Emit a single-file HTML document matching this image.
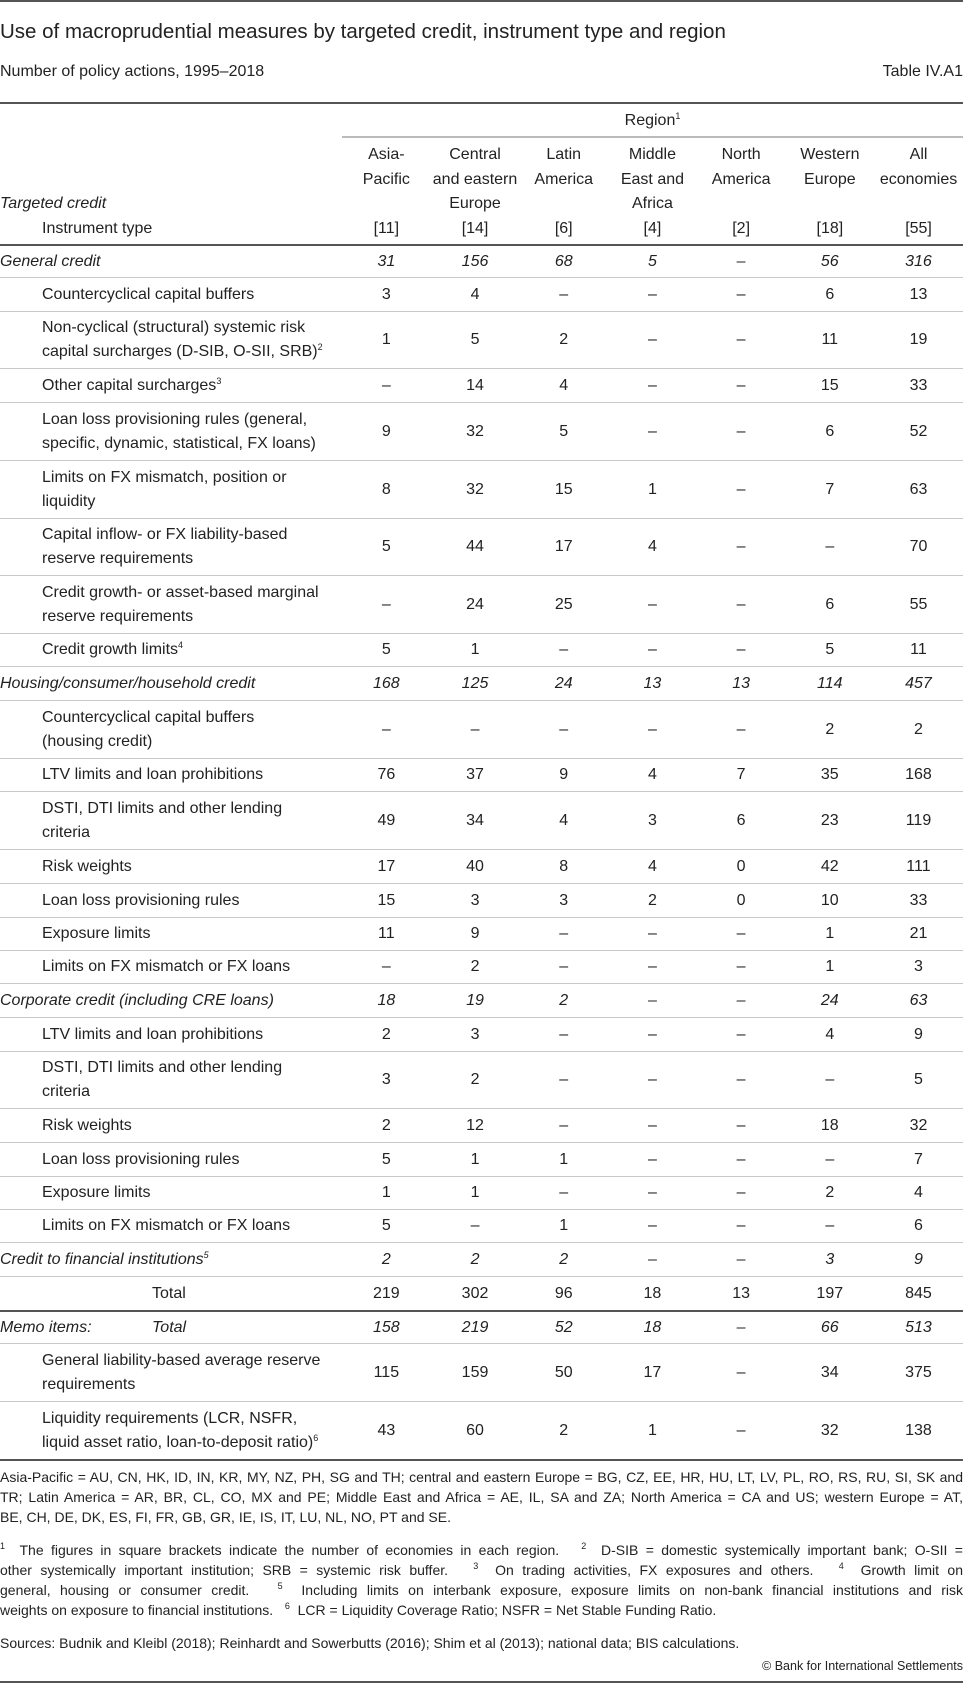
<!DOCTYPE html>
<html><head><meta charset="utf-8"><style>
*{margin:0;padding:0;box-sizing:border-box}
body{width:963px;height:1683px;position:relative;background:#fff;font-family:"Liberation Sans",sans-serif;color:#222;overflow:hidden}
.a{position:absolute}
.hl{position:absolute;left:0;width:963px;height:2px;background:#555}
.r{position:absolute;left:0;width:963px;display:flex;align-items:center;border-bottom:1.5px solid #c8c8c8;font-size:16px;line-height:24px}
.l{width:342px;padding-left:42px;flex:none;white-space:nowrap}
.r.i .l{padding-left:0;font-style:italic}
.r.i .c{font-style:italic}
.c{width:88.7px;text-align:center;flex:none}
sup{font-size:9px;vertical-align:6px;line-height:0}
.h{position:absolute;text-align:center;width:88.7px;font-size:16px;line-height:24.5px}
.fl{position:absolute;left:0;width:963px;font-size:14px;line-height:20px;text-align:justify;text-align-last:justify;white-space:nowrap}
.fl.e{text-align-last:left}
</style></head><body>
<div class="hl" style="top:0"></div>
<div class="a" style="left:0;top:19px;font-size:20.5px;line-height:26px">Use of macroprudential measures by targeted credit, instrument type and region</div>
<div class="a" style="left:0;top:61px;font-size:16px;line-height:22px">Number of policy actions, 1995–2018</div>
<div class="a" style="right:0;top:61px;font-size:16px;line-height:22px">Table IV.A1</div>
<div class="hl" style="top:102px"></div>
<div class="a" style="left:342px;width:621px;top:110px;text-align:center;font-size:16px;line-height:22px">Region<sup>1</sup></div>
<div class="a" style="left:342px;width:621px;top:136px;height:1.5px;background:#bbb"></div>
<div class="a" style="left:0;top:192px;font-size:16px;line-height:24.5px;font-style:italic">Targeted credit</div>
<div class="a" style="left:42px;top:216.5px;font-size:16px;line-height:24.5px">Instrument type</div>
<div class="h" style="left:342px;top:143px">Asia-<br>Pacific<br>&nbsp;<br>[11]</div>
<div class="h" style="left:430.7px;top:143px">Central<br>and eastern<br>Europe<br>[14]</div>
<div class="h" style="left:519.4px;top:143px">Latin<br>America<br>&nbsp;<br>[6]</div>
<div class="h" style="left:608.1px;top:143px">Middle<br>East and<br>Africa<br>[4]</div>
<div class="h" style="left:696.8px;top:143px">North<br>America<br>&nbsp;<br>[2]</div>
<div class="h" style="left:785.5px;top:143px">Western<br>Europe<br>&nbsp;<br>[18]</div>
<div class="h" style="left:874.2px;top:143px">All<br>economies<br>&nbsp;<br>[55]</div>
<div class="hl" style="top:244px"></div>

<div class="r i" style="top:246px;height:32px"><div class="l">General credit</div><div class="c">31</div><div class="c">156</div><div class="c">68</div><div class="c">5</div><div class="c">–</div><div class="c">56</div><div class="c">316</div></div>
<div class="r" style="top:278px;height:34px"><div class="l">Countercyclical capital buffers</div><div class="c">3</div><div class="c">4</div><div class="c">–</div><div class="c">–</div><div class="c">–</div><div class="c">6</div><div class="c">13</div></div>
<div class="r" style="top:312px;height:57px"><div class="l">Non-cyclical (structural) systemic risk<br>capital surcharges (D-SIB, O-SII, SRB)<sup>2</sup></div><div class="c">1</div><div class="c">5</div><div class="c">2</div><div class="c">–</div><div class="c">–</div><div class="c">11</div><div class="c">19</div></div>
<div class="r" style="top:369px;height:34px"><div class="l">Other capital surcharges<sup>3</sup></div><div class="c">–</div><div class="c">14</div><div class="c">4</div><div class="c">–</div><div class="c">–</div><div class="c">15</div><div class="c">33</div></div>
<div class="r" style="top:403px;height:58px"><div class="l">Loan loss provisioning rules (general,<br>specific, dynamic, statistical, FX loans)</div><div class="c">9</div><div class="c">32</div><div class="c">5</div><div class="c">–</div><div class="c">–</div><div class="c">6</div><div class="c">52</div></div>
<div class="r" style="top:461px;height:58px"><div class="l">Limits on FX mismatch, position or<br>liquidity</div><div class="c">8</div><div class="c">32</div><div class="c">15</div><div class="c">1</div><div class="c">–</div><div class="c">7</div><div class="c">63</div></div>
<div class="r" style="top:519px;height:57px"><div class="l">Capital inflow- or FX liability-based<br>reserve requirements</div><div class="c">5</div><div class="c">44</div><div class="c">17</div><div class="c">4</div><div class="c">–</div><div class="c">–</div><div class="c">70</div></div>
<div class="r" style="top:576px;height:58px"><div class="l">Credit growth- or asset-based marginal<br>reserve requirements</div><div class="c">–</div><div class="c">24</div><div class="c">25</div><div class="c">–</div><div class="c">–</div><div class="c">6</div><div class="c">55</div></div>
<div class="r" style="top:634px;height:33px"><div class="l">Credit growth limits<sup>4</sup></div><div class="c">5</div><div class="c">1</div><div class="c">–</div><div class="c">–</div><div class="c">–</div><div class="c">5</div><div class="c">11</div></div>
<div class="r i" style="top:667px;height:34px"><div class="l">Housing/consumer/household credit</div><div class="c">168</div><div class="c">125</div><div class="c">24</div><div class="c">13</div><div class="c">13</div><div class="c">114</div><div class="c">457</div></div>
<div class="r" style="top:701px;height:58px"><div class="l">Countercyclical capital buffers<br>(housing credit)</div><div class="c">–</div><div class="c">–</div><div class="c">–</div><div class="c">–</div><div class="c">–</div><div class="c">2</div><div class="c">2</div></div>
<div class="r" style="top:759px;height:33px"><div class="l">LTV limits and loan prohibitions</div><div class="c">76</div><div class="c">37</div><div class="c">9</div><div class="c">4</div><div class="c">7</div><div class="c">35</div><div class="c">168</div></div>
<div class="r" style="top:792px;height:58px"><div class="l">DSTI, DTI limits and other lending<br>criteria</div><div class="c">49</div><div class="c">34</div><div class="c">4</div><div class="c">3</div><div class="c">6</div><div class="c">23</div><div class="c">119</div></div>
<div class="r" style="top:850px;height:34px"><div class="l">Risk weights</div><div class="c">17</div><div class="c">40</div><div class="c">8</div><div class="c">4</div><div class="c">0</div><div class="c">42</div><div class="c">111</div></div>
<div class="r" style="top:884px;height:34px"><div class="l">Loan loss provisioning rules</div><div class="c">15</div><div class="c">3</div><div class="c">3</div><div class="c">2</div><div class="c">0</div><div class="c">10</div><div class="c">33</div></div>
<div class="r" style="top:918px;height:33px"><div class="l">Exposure limits</div><div class="c">11</div><div class="c">9</div><div class="c">–</div><div class="c">–</div><div class="c">–</div><div class="c">1</div><div class="c">21</div></div>
<div class="r" style="top:951px;height:33px"><div class="l">Limits on FX mismatch or FX loans</div><div class="c">–</div><div class="c">2</div><div class="c">–</div><div class="c">–</div><div class="c">–</div><div class="c">1</div><div class="c">3</div></div>
<div class="r i" style="top:984px;height:34px"><div class="l">Corporate credit (including CRE loans)</div><div class="c">18</div><div class="c">19</div><div class="c">2</div><div class="c">–</div><div class="c">–</div><div class="c">24</div><div class="c">63</div></div>
<div class="r" style="top:1018px;height:34px"><div class="l">LTV limits and loan prohibitions</div><div class="c">2</div><div class="c">3</div><div class="c">–</div><div class="c">–</div><div class="c">–</div><div class="c">4</div><div class="c">9</div></div>
<div class="r" style="top:1052px;height:57px"><div class="l">DSTI, DTI limits and other lending<br>criteria</div><div class="c">3</div><div class="c">2</div><div class="c">–</div><div class="c">–</div><div class="c">–</div><div class="c">–</div><div class="c">5</div></div>
<div class="r" style="top:1109px;height:34px"><div class="l">Risk weights</div><div class="c">2</div><div class="c">12</div><div class="c">–</div><div class="c">–</div><div class="c">–</div><div class="c">18</div><div class="c">32</div></div>
<div class="r" style="top:1143px;height:34px"><div class="l">Loan loss provisioning rules</div><div class="c">5</div><div class="c">1</div><div class="c">1</div><div class="c">–</div><div class="c">–</div><div class="c">–</div><div class="c">7</div></div>
<div class="r" style="top:1177px;height:33px"><div class="l">Exposure limits</div><div class="c">1</div><div class="c">1</div><div class="c">–</div><div class="c">–</div><div class="c">–</div><div class="c">2</div><div class="c">4</div></div>
<div class="r" style="top:1210px;height:33px"><div class="l">Limits on FX mismatch or FX loans</div><div class="c">5</div><div class="c">–</div><div class="c">1</div><div class="c">–</div><div class="c">–</div><div class="c">–</div><div class="c">6</div></div>
<div class="r i" style="top:1243px;height:34px"><div class="l">Credit to financial institutions<sup>5</sup></div><div class="c">2</div><div class="c">2</div><div class="c">2</div><div class="c">–</div><div class="c">–</div><div class="c">3</div><div class="c">9</div></div>
<div class="r" style="top:1277px;height:33px;border-bottom:none"><div class="l" style="padding-left:152px">Total</div><div class="c">219</div><div class="c">302</div><div class="c">96</div><div class="c">18</div><div class="c">13</div><div class="c">197</div><div class="c">845</div></div>
<div class="hl" style="top:1310px"></div>
<div class="r i" style="top:1312px;height:32px"><div class="l" style="position:relative">Memo items:<span style="position:absolute;left:152px">Total</span></div><div class="c">158</div><div class="c">219</div><div class="c">52</div><div class="c">18</div><div class="c">–</div><div class="c">66</div><div class="c">513</div></div>
<div class="r" style="top:1344px;height:58px"><div class="l">General liability-based average reserve<br>requirements</div><div class="c">115</div><div class="c">159</div><div class="c">50</div><div class="c">17</div><div class="c">–</div><div class="c">34</div><div class="c">375</div></div>
<div class="r" style="top:1402px;height:57px;border-bottom:none"><div class="l">Liquidity requirements (LCR, NSFR,<br>liquid asset ratio, loan-to-deposit ratio)<sup>6</sup></div><div class="c">43</div><div class="c">60</div><div class="c">2</div><div class="c">1</div><div class="c">–</div><div class="c">32</div><div class="c">138</div></div>
<div class="hl" style="top:1459px"></div>

<div class="fl" style="top:1467px">Asia-Pacific = AU, CN, HK, ID, IN, KR, MY, NZ, PH, SG and TH; central and eastern Europe = BG, CZ, EE, HR, HU, LT, LV, PL, RO, RS, RU, SI, SK and</div>
<div class="fl" style="top:1487px">TR; Latin America = AR, BR, CL, CO, MX and PE; Middle East and Africa = AE, IL, SA and ZA; North America = CA and US; western Europe = AT,</div>
<div class="fl e" style="top:1507px">BE, CH, DE, DK, ES, FI, FR, GB, GR, IE, IS, IT, LU, NL, NO, PT and SE.</div>
<div class="fl" style="top:1540px"><sup>1</sup>&nbsp; The figures in square brackets indicate the number of economies in each region. &nbsp; <sup>2</sup>&nbsp; D-SIB = domestic systemically important bank; O-SII =</div>
<div class="fl" style="top:1560px">other systemically important institution; SRB = systemic risk buffer. &nbsp; <sup>3</sup>&nbsp; On trading activities, FX exposures and others. &nbsp; <sup>4</sup>&nbsp; Growth limit on</div>
<div class="fl" style="top:1580px">general, housing or consumer credit. &nbsp; <sup>5</sup>&nbsp; Including limits on interbank exposure, exposure limits on non-bank financial institutions and risk</div>
<div class="fl e" style="top:1600px">weights on exposure to financial institutions. &nbsp; <sup>6</sup>&nbsp; LCR = Liquidity Coverage Ratio; NSFR = Net Stable Funding Ratio.</div>
<div class="fl e" style="top:1633px">Sources: Budnik and Kleibl (2018); Reinhardt and Sowerbutts (2016); Shim et al (2013); national data; BIS calculations.</div>
<div class="a" style="right:0;top:1658px;font-size:12.5px;line-height:16px">© Bank for International Settlements</div>
<div class="hl" style="top:1681px"></div>
</body></html>
